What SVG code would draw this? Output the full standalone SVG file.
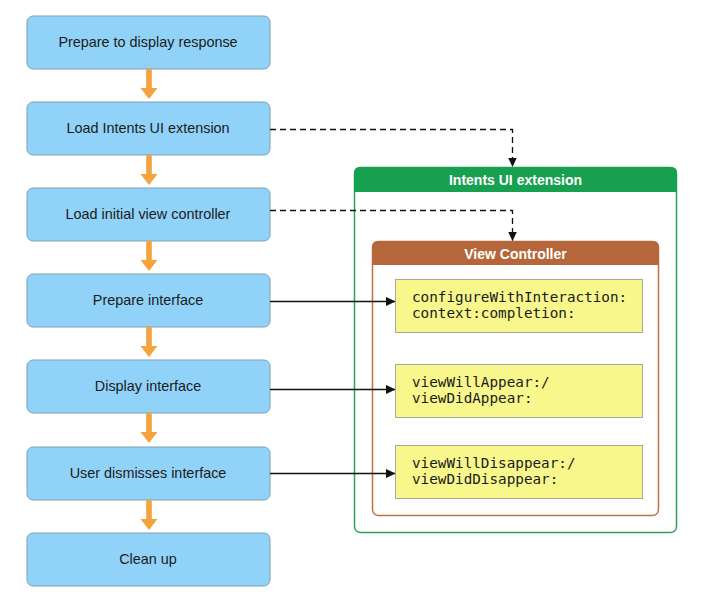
<svg xmlns="http://www.w3.org/2000/svg" width="704" height="612" viewBox="0 0 704 612">
<defs>
<style>
.step rect{fill:#91d3f8;stroke:#7f9fb3;stroke-width:1}
.step text{font-family:"Liberation Sans",Arial,sans-serif;font-size:14.4px;fill:#1b1b1b;text-anchor:middle}
.flow{fill:#f5a33c}
.dash{fill:none;stroke:#111;stroke-width:1.3;stroke-dasharray:6 4}
.solid{fill:none;stroke:#111;stroke-width:1.3}
.title{font-family:"Liberation Sans",Arial,sans-serif;font-size:14px;font-weight:bold;fill:#fff;text-anchor:middle}
.method rect{fill:#f7f78c;stroke:#a8a8a0;stroke-width:1}
.method text{font-family:"DejaVu Sans Mono",monospace;font-size:14.3px;fill:#1b1b1b}
</style>
<marker id="ah" markerWidth="10" markerHeight="10" refX="9" refY="5" orient="auto" markerUnits="userSpaceOnUse">
<path d="M0,0.5 L9.5,5 L0,9.5 Z" fill="#111"/>
</marker>
<path id="oarrow" d="M-2.8,0 H2.8 V19 H8.5 L0,30 L-8.5,19 H-2.8 Z"/>
</defs>
<rect width="704" height="612" fill="#fff"/>

<g id="n1" class="step"><rect x="27" y="16" width="243" height="53" rx="6"/><text x="148" y="47">Prepare to display response</text></g>
<g id="n2" class="step"><rect x="27" y="102" width="243" height="53" rx="6"/><text x="148" y="133">Load Intents UI extension</text></g>
<g id="n3" class="step"><rect x="27" y="188" width="243" height="53" rx="6"/><text x="148" y="219">Load initial view controller</text></g>
<g id="n4" class="step"><rect x="27" y="274" width="243" height="53" rx="6"/><text x="148" y="305">Prepare interface</text></g>
<g id="n5" class="step"><rect x="27" y="360" width="243" height="53" rx="6"/><text x="148" y="391">Display interface</text></g>
<g id="n6" class="step"><rect x="27" y="447" width="243" height="53" rx="6"/><text x="148" y="478">User dismisses interface</text></g>
<g id="n7" class="step"><rect x="27" y="533" width="243" height="53" rx="6"/><text x="148" y="564">Clean up</text></g>

<g id="ext">
<rect x="354.5" y="167.5" width="322" height="365" rx="6" fill="#fff" stroke="#2aa35a" stroke-width="1.5"/>
<path d="M354,192 V173 Q354,167 360,167 H671 Q677,167 677,173 V192 Z" fill="#17a04f"/>
<text class="title" x="515.5" y="185">Intents UI extension</text>
</g>

<g id="vc">
<rect x="372.5" y="241.5" width="286" height="274" rx="6" fill="#fff" stroke="#bf7040" stroke-width="1.5"/>
<path d="M372,265 V247 Q372,241 378,241 H653 Q659,241 659,247 V265 Z" fill="#b5663a"/>
<text class="title" x="515.5" y="258.5">View Controller</text>
</g>

<g id="m1" class="method"><rect x="395.5" y="279.5" width="247" height="53"/><text x="412" y="302">configureWithInteraction:</text><text x="412" y="318">context:completion:</text></g>
<g id="m2" class="method"><rect x="395.5" y="364.5" width="247" height="53"/><text x="412" y="387">viewWillAppear:/</text><text x="412" y="403">viewDidAppear:</text></g>
<g id="m3" class="method"><rect x="395.5" y="445.5" width="247" height="53"/><text x="412" y="468">viewWillDisappear:/</text><text x="412" y="484">viewDidDisappear:</text></g>

<g id="connectors">
<use href="#oarrow" class="flow" x="149" y="69"/>
<use href="#oarrow" class="flow" x="149" y="155"/>
<use href="#oarrow" class="flow" x="149" y="241"/>
<use href="#oarrow" class="flow" x="149" y="327"/>
<use href="#oarrow" class="flow" x="149" y="413"/>
<use href="#oarrow" class="flow" x="149" y="500"/>
<path class="dash" d="M270,129.5 H512.5 V166.5" marker-end="url(#ah)"/>
<path class="dash" d="M270,210.5 H512.5 V240.5" marker-end="url(#ah)"/>
<path class="solid" d="M270,301.5 H395" marker-end="url(#ah)"/>
<path class="solid" d="M270,389.5 H395" marker-end="url(#ah)"/>
<path class="solid" d="M270,473.5 H395" marker-end="url(#ah)"/>
</g>
</svg>
